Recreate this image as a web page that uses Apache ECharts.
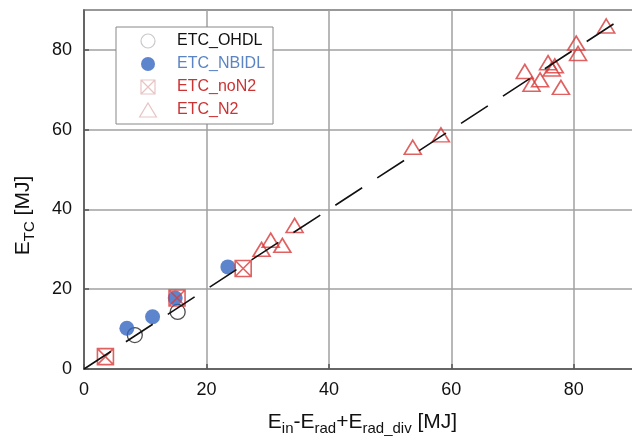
<!DOCTYPE html>
<html><head><meta charset="utf-8">
<script src="https://cdn.jsdelivr.net/npm/echarts@6/dist/echarts.min.js"></script>
<style>html,body{margin:0;padding:0;background:#fff}#c{width:632px;height:437px}</style>
</head><body><div id="c"></div>
<script>
const seriesNames = ['ETC_OHDL', 'ETC_NBIDL', 'ETC_noN2', 'ETC_N2'];
const ohdl = [[8.3, 8.5], [15.3, 14.3]];
const nbidl = [[7.0, 10.2], [11.2, 13.1], [14.9, 17.8], [23.5, 25.6]];
const noN2 = [[3.5, 3.1], [15.2, 17.8], [26.0, 25.2]];
const n2 = [[29.0, 30.0], [30.5, 32.3], [32.4, 31.0], [34.4, 36.0], [53.7, 55.6], [58.3, 58.7],
  [72.0, 74.6], [73.1, 71.4], [74.5, 72.5], [75.8, 76.8], [76.4, 75.2], [76.9, 76.0], [77.9, 70.6],
  [80.4, 81.7], [80.7, 79.1], [85.3, 86.0]];
const fitLine = [[0, 0], [88, 88]];
const axisMax = 90;
const tickStep = 20;

const RED = '#d83a3a', BLUE = '#3566c0';
const boxX = 'path://M0,0L10,0L10,10L0,10Z M0,0L10,10 M10,0L0,10';
const tri = 'path://M6,0L12,10L0,10Z';
const FONT = 'Liberation Sans, Arial, sans-serif';

const chart = echarts.init(document.getElementById('c'));
const rich = {
  m: { fontSize: 21, color: '#111', fontFamily: FONT },
  s: { fontSize: 15, color: '#111', fontFamily: FONT, padding: [12, 0, 0, 0] }
};
const axisCommon = {
  type: 'value', min: 0, max: axisMax, interval: tickStep,
  axisLine: { show: true, lineStyle: { color: '#555', width: 1.5 } },
  axisTick: { show: true, inside: true, length: 5, lineStyle: { color: '#555', width: 1.5 } },
  splitLine: { show: true, lineStyle: { color: '#a0a0a0', width: 1.5 } },
  axisLabel: { fontSize: 18, color: '#111', fontFamily: FONT, margin: 12, showMaxLabel: false,
    formatter: v => (v === axisMax ? '' : String(v)) },
  nameLocation: 'middle'
};
chart.setOption({
  animation: false,
  backgroundColor: '#fff',
  grid: { left: 84, top: 10, width: 551, height: 359, show: true, borderColor: '#555', borderWidth: 1.5,
    containLabel: false, outerBoundsMode: 'none' },
  xAxis: Object.assign({}, axisCommon, {
    name: '{m|E}{s|in}{m|-E}{s|rad}{m|+E}{s|rad_div}{m| [MJ]}',
    nameGap: 40,
    nameTextStyle: { rich: rich, padding: [0, 0, 0, 6] }
  }),
  yAxis: Object.assign({}, axisCommon, {
    name: '{m|E}{s|TC}{m| [MJ]}',
    nameGap: 47,
    nameTextStyle: { rich: rich, padding: [0, 52, 0, 0] }
  }),
  legend: {
    orient: 'vertical', left: 116, top: 27,
    padding: [6, 8, 6, 23], itemGap: 7, itemWidth: 48, itemHeight: 14,
    backgroundColor: '#fff', borderColor: '#888', borderWidth: 1,
    textStyle: { fontSize: 16, fontFamily: FONT },
    data: [
      { name: seriesNames[0], icon: 'circle', itemStyle: { color: 'rgba(0,0,0,0)', borderColor: '#bbb', borderWidth: 1.2 }, textStyle: { color: '#111' } },
      { name: seriesNames[1], icon: 'circle', itemStyle: { color: BLUE }, textStyle: { color: '#5b84c4' } },
      { name: seriesNames[2], icon: boxX, itemStyle: { color: 'rgba(0,0,0,0)', borderColor: '#e2b4b4', borderWidth: 1.2 }, textStyle: { color: '#cc3333' } },
      { name: seriesNames[3], icon: tri, itemStyle: { color: 'rgba(0,0,0,0)', borderColor: '#e2b4b4', borderWidth: 1.2 }, textStyle: { color: '#cc3333' } }
    ]
  },
  series: [
    { name: seriesNames[0], type: 'scatter', data: ohdl, symbol: 'circle', symbolSize: 15,
      itemStyle: { color: 'rgba(0,0,0,0)', borderColor: '#222', borderWidth: 1.3 } },
    { name: seriesNames[1], type: 'scatter', data: nbidl, symbol: 'circle', symbolSize: 15,
      itemStyle: { color: BLUE } },
    { name: seriesNames[2], type: 'scatter', data: noN2, symbol: boxX, symbolSize: 16,
      itemStyle: { color: 'rgba(0,0,0,0)', borderColor: RED, borderWidth: 1.6 } },
    { name: seriesNames[3], type: 'scatter', data: n2, symbol: 'triangle', symbolSize: [17, 14],
      itemStyle: { color: 'rgba(0,0,0,0)', borderColor: RED, borderWidth: 1.6 } },
    { name: 'fit', type: 'line', data: fitLine, symbol: 'none', silent: true,
      lineStyle: { color: '#111', width: 1.6, type: [32, 18] }, z: 5 }
  ]
});
</script></body></html>
